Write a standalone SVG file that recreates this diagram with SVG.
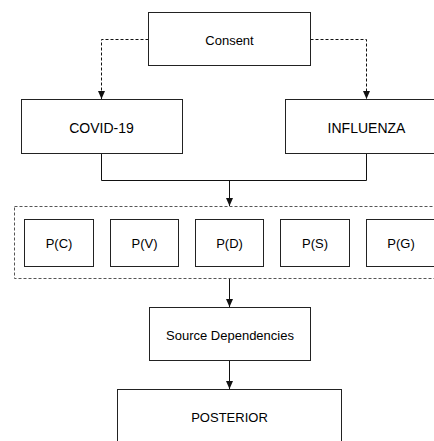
<svg xmlns="http://www.w3.org/2000/svg" width="434" height="441" viewBox="0 0 434 441">
<style>
.box{fill:#fff;stroke:#222;stroke-width:1}
.t{font-family:"Liberation Sans",Arial,sans-serif;fill:#000;text-anchor:middle;dominant-baseline:central}
.c{fill:none;stroke:#111;stroke-width:1}
.d{stroke-dasharray:3 2}
</style>
<defs>
<marker id="a" viewBox="0 0 8 8" refX="8" refY="4" markerWidth="8" markerHeight="8" markerUnits="userSpaceOnUse" orient="auto">
<path d="M0,0.5 L8,4 L0,7.5 z" fill="#111"/>
</marker>
</defs>
<rect width="434" height="441" fill="#fff"/>
<g id="container"><rect x="14.5" y="206.5" width="440" height="72" fill="none" stroke="#555" stroke-width="1" stroke-dasharray="3 2"/></g>
<g id="connectors">
<path class="c d" d="M148.5,39.5 H101.5 V99" marker-end="url(#a)"/>
<path class="c d" d="M310.5,39.5 H366.5 V99" marker-end="url(#a)"/>
<path class="c" d="M101.5,153.5 V180.5 H366.5 V153.5"/>
<path class="c" d="M229.5,180.5 V206" marker-end="url(#a)"/>
<path class="c" d="M229.5,279 V307" marker-end="url(#a)"/>
<path class="c" d="M229.5,361 V389" marker-end="url(#a)"/>
</g>
<g id="consent"><rect class="box" x="148.5" y="12.5" width="162" height="53"/><text class="t" x="229.5" y="40" font-size="13">Consent</text></g>
<g id="covid"><rect class="box" x="21.5" y="99.5" width="161" height="54"/><text class="t" x="101.5" y="128" font-size="14">COVID-19</text></g>
<g id="influenza"><rect class="box" x="285.5" y="99.5" width="162" height="54"/><text class="t" x="366.5" y="128" font-size="14">INFLUENZA</text></g>
<g id="pc"><rect class="box" x="24.5" y="219.5" width="69" height="47"/><text class="t" x="59" y="243" font-size="13">P(C)</text></g>
<g id="pv"><rect class="box" x="110.5" y="219.5" width="68" height="47"/><text class="t" x="144.5" y="243" font-size="13">P(V)</text></g>
<g id="pd"><rect class="box" x="195.5" y="219.5" width="68" height="47"/><text class="t" x="229.5" y="243" font-size="13">P(D)</text></g>
<g id="ps"><rect class="box" x="280.5" y="219.5" width="69" height="47"/><text class="t" x="315" y="243" font-size="13">P(S)</text></g>
<g id="pg"><rect class="box" x="366.5" y="219.5" width="69" height="47"/><text class="t" x="401" y="243" font-size="13">P(G)</text></g>
<g id="source"><rect class="box" x="149.5" y="307.5" width="161" height="53"/><text class="t" x="230" y="335" font-size="13">Source Dependencies</text></g>
<g id="posterior"><rect class="box" x="117.5" y="389.5" width="224" height="60"/><text class="t" x="229.5" y="417" font-size="13">POSTERIOR</text></g>
</svg>
